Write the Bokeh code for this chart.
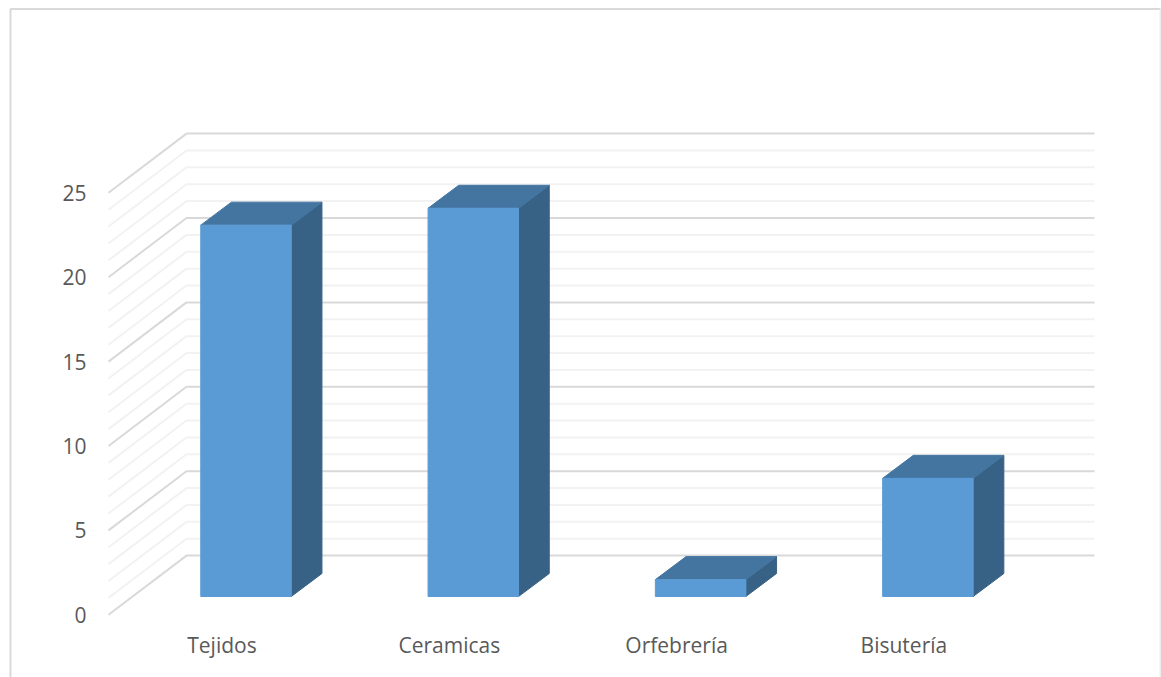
from bokeh.plotting import figure
from bokeh.embed import file_html
from bokeh.resources import INLINE
from bokeh.models import Range1d, LinearAxis, FixedTicker

categories = ["Tejidos", "Ceramicas", "Orfebrería", "Bisutería"]
values = [22, 23, 1, 7]
y_ticks = [0, 5, 10, 15, 20, 25]
grid_levels = list(range(0, 26))

# Layout constants (page pixels)
W, H = 1161, 677
PAGE_L, PAGE_T = 0, 0
X0_PX, X_UNIT = 221.5, 227.3      # first category on the front plane, spacing
Y0_PX, Y_UNIT = 614.3, 16.88      # value 0 on the front plane, px per unit

def dx(px):
    return px / X_UNIT

def dy(px):
    return px / Y_UNIT

x_start = (PAGE_L - X0_PX) / X_UNIT
x_end = x_start + W / X_UNIT
y_end = (Y0_PX - PAGE_T) / Y_UNIT
y_start = y_end - H / Y_UNIT

p = figure(width=W, height=H, output_backend="svg", toolbar_location=None,
           x_range=Range1d(x_start, x_end), y_range=Range1d(y_start, y_end),
           x_axis_type=None, y_axis_type=None,
           min_border=0, min_border_left=0, min_border_right=0,
           min_border_top=0, min_border_bottom=0)
p.grid.visible = False
p.outline_line_color = None
p.background_fill_color = "white"
p.border_fill_color = "white"

# Chart-area border (left, top, right; bottom is cut off)
bl, br, bt = x_start + dx(10), x_end - dx(1), y_end - dy(8.5)
p.line([bl, bl, br], [y_start, bt, bt], line_color="#D9D9D9", line_width=2)
p.line([br, br], [bt, y_start], line_color="#EDEDED", line_width=2)

# Wall / floor depth
WALL_DX, WALL_DY = dx(78), dy(59.2)
wall_left = dx(108 - X0_PX)
wall_right = dx(1094 - X0_PX)

def grid_path(v):
    return ([wall_left, wall_left + WALL_DX, wall_right],
            [v, v + WALL_DY, v + WALL_DY])

minor = [grid_path(v) for v in grid_levels if v % 5 != 0]
major = [grid_path(v) for v in grid_levels if v % 5 == 0]
p.multi_line([m[0] for m in minor], [m[1] for m in minor], line_color="#F2F2F2", line_width=2)
p.multi_line([m[0] for m in major], [m[1] for m in major], line_color="#D9D9D9", line_width=2)

# 3D bars
BAR_W = dx(90.5)
BAR_SHIFT_X = dx(24)
BAR_SHIFT_Y = dy(18.3)
BAR_DX, BAR_DY = dx(30.7), dy(23)

front_x, front_y, top_x, top_y, side_x, side_y = [], [], [], [], [], []
for i, v in enumerate(values):
    l = i + BAR_SHIFT_X - BAR_W / 2
    r = l + BAR_W
    b = BAR_SHIFT_Y
    t = BAR_SHIFT_Y + v
    front_x.append([l, r, r, l])
    front_y.append([b, b, t, t])
    top_x.append([l, r, r + BAR_DX, l + BAR_DX])
    top_y.append([t, t, t + BAR_DY, t + BAR_DY])
    side_x.append([r, r + BAR_DX, r + BAR_DX, r])
    side_y.append([b, b + BAR_DY, t + BAR_DY, t])

p.patches(side_x, side_y, fill_color="#386285", line_color="#386285", line_width=1)
p.patches(top_x, top_y, fill_color="#4475A1", line_color="#4475A1", line_width=1)
p.patches(front_x, front_y, fill_color="#5B9BD5", line_color="#5B9BD5", line_width=1)

# Axes inside the frame
TEXT = "#595959"
yaxis = LinearAxis(ticker=FixedTicker(ticks=y_ticks), fixed_location=wall_left)
yaxis.axis_line_color = None
yaxis.major_tick_line_color = None
yaxis.minor_tick_line_color = None
yaxis.major_label_text_font = "Open Sans"
yaxis.major_label_text_font_size = "21px"
yaxis.major_label_text_color = TEXT
yaxis.major_label_standoff = 16
p.add_layout(yaxis, "left")

xaxis = LinearAxis(ticker=FixedTicker(ticks=list(range(len(categories)))), fixed_location=0)
xaxis.major_label_overrides = {i: c for i, c in enumerate(categories)}
xaxis.axis_line_color = None
xaxis.major_tick_line_color = None
xaxis.minor_tick_line_color = None
xaxis.major_label_text_font = "Open Sans"
xaxis.major_label_text_font_size = "21px"
xaxis.major_label_text_color = TEXT
xaxis.major_label_standoff = 10
p.add_layout(xaxis, "below")

open("out.html", "w").write(file_html(p, INLINE))
